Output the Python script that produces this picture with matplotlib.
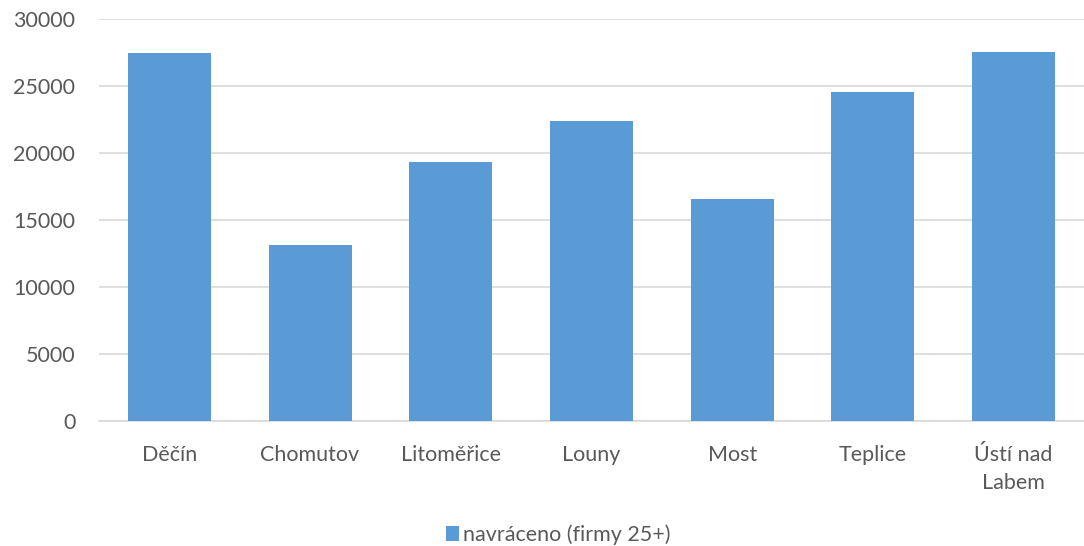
import matplotlib
matplotlib.use("Agg")
import matplotlib.pyplot as plt
import numpy as np

# data
districts = ["Děčín", "Chomutov", "Litoměřice", "Louny", "Most", "Teplice", "Ústí nad\nLabem"]
returned = [27440, 13110, 19300, 22370, 16590, 24550, 27510]
series_name = "navráceno (firmy 25+)"

plt.rcParams['font.family'] = ['Lato', 'DejaVu Sans']
grey = "#595959"

fig = plt.figure(figsize=(10.84, 5.46), dpi=100)
ax = fig.add_axes([0.0913, 0.229, 0.9087, 0.736])

x = np.arange(len(districts))
ax.bar(x, returned, width=0.59, color="#5b9bd5", label=series_name, zorder=3)

ax.set_xlim(-0.5, len(districts) - 0.5)
ax.set_ylim(0, 30000)
ax.set_yticks(np.arange(0, 30001, 5000))
ax.yaxis.grid(True, color="#d9d9d9", linewidth=1.2, zorder=0)
ax.set_axisbelow(True)

for s in ["top", "right", "left"]:
    ax.spines[s].set_visible(False)
ax.spines["bottom"].set_color("#d9d9d9")
ax.spines["bottom"].set_linewidth(1.2)

ax.set_xticks(x)
ax.set_xticklabels(districts, fontsize=15.5, color=grey, linespacing=1.5)
ax.tick_params(axis="x", length=0, pad=17)
ax.tick_params(axis="y", length=0, pad=17, labelsize=15.5, labelcolor=grey)

fig.legend(loc="center", bbox_to_anchor=(0.515, 0.02), frameon=False,
           fontsize=15.5, labelcolor=grey, handlelength=0.6, handleheight=0.7,
           handletextpad=0.15)

fig.savefig("out.png", dpi=100)
